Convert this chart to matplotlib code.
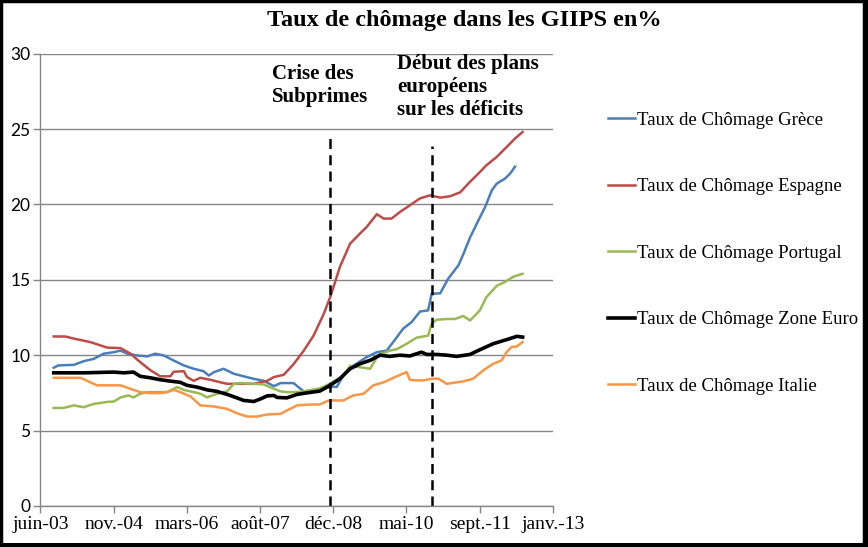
import matplotlib
matplotlib.use('Agg')
import matplotlib.pyplot as plt
from matplotlib.patches import Rectangle
import numpy as np

# x = months since juin-03
greece_x = [3, 4, 7.5, 9.7, 12, 14.2, 16.5, 18, 19.5, 21.7, 24, 25.8, 27.7, 29.9, 32.2, 34.4, 36.6, 37.8, 38.9, 41.1, 43.4, 45.6, 47.9, 50.1, 52.4, 53.9, 56.8, 59.1, 62.7, 65, 66.5, 68.3, 70.2, 73.2, 75.5, 77.7, 80, 81.4, 83.3, 85.2, 87, 87.8, 89.7, 91.5, 93.8, 94.9, 96.4, 98.3, 99.8, 101.3, 102.4, 104.2, 105.4, 106.5]
greece_y = [9.17, 9.32, 9.36, 9.6, 9.76, 10.1, 10.2, 10.3, 10.1, 9.98, 9.92, 10.1, 9.98, 9.65, 9.32, 9.1, 8.94, 8.65, 8.87, 9.1, 8.77, 8.6, 8.43, 8.3, 7.95, 8.15, 8.15, 7.6, 7.7, 7.9, 7.9, 8.8, 9.3, 9.87, 10.2, 10.3, 11.2, 11.76, 12.2, 12.9, 12.97, 14.08, 14.1, 15.07, 15.96, 16.7, 17.8, 18.95, 19.83, 20.94, 21.38, 21.7, 22.04, 22.5]

spain_x = [3, 5.6, 7.5, 11.2, 15, 18, 20.2, 22.4, 24.7, 26.9, 29.2, 29.9, 32.2, 32.9, 34.4, 35.9, 38.1, 40.4, 41.9, 44.9, 47.9, 50.9, 52.4, 54.6, 56.8, 59.1, 61.3, 63.6, 65.1, 67.2, 69.5, 71.7, 73.2, 75.5, 77, 78.8, 80.7, 82.9, 85.2, 87.4, 89.7, 91.9, 94.2, 96.4, 97.9, 100.1, 102.4, 104.6, 106.5, 108.2]
spain_y = [11.24, 11.24, 11.1, 10.87, 10.5, 10.47, 10.1, 9.54, 9.0, 8.6, 8.6, 8.9, 8.94, 8.55, 8.3, 8.5, 8.37, 8.2, 8.1, 8.1, 8.1, 8.3, 8.55, 8.7, 9.4, 10.3, 11.3, 12.75, 13.9, 15.85, 17.4, 18.06, 18.5, 19.35, 19.06, 19.06, 19.5, 19.94, 20.4, 20.6, 20.45, 20.54, 20.8, 21.5, 21.93, 22.6, 23.15, 23.8, 24.37, 24.8]

portugal_x = [3, 5.2, 7.5, 9.7, 12, 15, 16.5, 18, 19.8, 20.9, 22.4, 23.9, 26.2, 28.4, 30.7, 32.2, 34.4, 35.9, 37.4, 39.6, 41.9, 43.4, 44.9, 47.9, 50.1, 52.4, 53.9, 55.3, 56.8, 59.1, 62.7, 65, 68, 69.5, 71.7, 74, 75.8, 78.4, 80, 82.2, 84.4, 87, 87.8, 88.9, 91.2, 93, 94.9, 96.4, 98.6, 100.1, 102.4, 104.2, 106.1, 108.2]
portugal_y = [6.5, 6.5, 6.67, 6.55, 6.77, 6.9, 6.93, 7.2, 7.33, 7.2, 7.44, 7.55, 7.55, 7.55, 7.88, 7.7, 7.55, 7.44, 7.2, 7.44, 7.6, 8.1, 8.15, 8.1, 8.06, 7.77, 7.6, 7.55, 7.55, 7.6, 7.8, 8.1, 8.66, 9.3, 9.2, 9.1, 10.0, 10.3, 10.4, 10.76, 11.16, 11.3, 12.1, 12.35, 12.4, 12.4, 12.6, 12.3, 12.97, 13.86, 14.6, 14.85, 15.2, 15.4]

euro_x = [3, 9.7, 16.5, 18.7, 20.9, 22.4, 24.7, 26.9, 29.2, 31.4, 32.9, 35.2, 37.4, 39.6, 41.9, 44.1, 45.6, 47.9, 49.4, 50.9, 52.4, 53.1, 55.3, 57.6, 59.8, 62.7, 65, 67.2, 69.5, 71.7, 74, 76.2, 78.4, 80.7, 82.9, 85.5, 86.7, 88.9, 91.2, 93.4, 96.4, 98.6, 101.6, 104.6, 106.9, 108.2]
euro_y = [8.83, 8.83, 8.88, 8.83, 8.88, 8.6, 8.5, 8.37, 8.28, 8.2, 8.0, 7.88, 7.7, 7.6, 7.4, 7.17, 7.0, 6.93, 7.1, 7.3, 7.33, 7.2, 7.17, 7.4, 7.5, 7.62, 8.0, 8.44, 9.1, 9.43, 9.66, 10.0, 9.92, 10.0, 9.95, 10.2, 10.05, 10.05, 10.0, 9.92, 10.05, 10.36, 10.76, 11.03, 11.25, 11.2]

italy_x = [3, 9, 11.2, 12.7, 18, 20.2, 22.4, 24.7, 26.9, 28.4, 29.9, 31.4, 33.7, 35.9, 38.9, 41.9, 44.1, 46.4, 48.6, 50.9, 53.9, 55.3, 57.6, 60.6, 62.7, 64.3, 65, 68, 70.2, 72.5, 74.7, 77, 79.6, 82.2, 82.9, 84.1, 86, 87.8, 89.3, 91.2, 92.7, 94.9, 97.1, 99.4, 101.6, 103.5, 104.6, 105.7, 106.9, 108.2]
italy_y = [8.5, 8.5, 8.2, 8.0, 8.0, 7.77, 7.55, 7.48, 7.48, 7.55, 7.7, 7.55, 7.26, 6.67, 6.6, 6.44, 6.15, 5.93, 5.93, 6.07, 6.11, 6.33, 6.67, 6.73, 6.73, 6.95, 7.0, 7.0, 7.33, 7.44, 8.0, 8.2, 8.55, 8.88, 8.37, 8.33, 8.33, 8.44, 8.44, 8.1, 8.17, 8.26, 8.44, 9.0, 9.43, 9.66, 10.2, 10.54, 10.58, 10.87]

series_labels = ['Taux de Chômage Grèce', 'Taux de Chômage Espagne', 'Taux de Chômage Portugal',
                 'Taux de Chômage Zone Euro', 'Taux de Chômage Italie']
tick_labels = ['juin-03', 'nov.-04', 'mars-06', 'août-07', 'déc.-08', 'mai-10', 'sept.-11', 'janv.-13']
events_x = [65.0, 87.9]
events_top = [24.4, 23.9]
events_text = ['Crise des\nSubprimes', 'Début des plans\neuropéens\nsur les déficits']

serif = 'Liberation Serif'

fig = plt.figure(figsize=(8.68, 5.47), dpi=100)
ax = fig.add_axes([0.0465, 0.075, 0.5905, 0.827])

ax.plot(greece_x, greece_y, color='#4A7EBB', lw=1.8, label=series_labels[0])
ax.plot(spain_x, spain_y, color='#BE4B48', lw=1.8, label=series_labels[1])
ax.plot(portugal_x, portugal_y, color='#98B954', lw=1.8, label=series_labels[2])
ax.plot(euro_x, euro_y, color='black', lw=2.6, label=series_labels[3])
ax.plot(italy_x, italy_y, color='#F79646', lw=1.8, label=series_labels[4])

for ex, et in zip(events_x, events_top):
    ax.vlines(ex, 0, et, colors='black', linestyles=(0, (4, 2.5)), lw=1.8)

ax.text(52.0, 29.3, events_text[0], fontfamily=serif, fontweight='bold', fontsize=15,
        va='top', ha='left', linespacing=1.2)
ax.text(80.0, 29.95, events_text[1], fontfamily=serif, fontweight='bold', fontsize=15,
        va='top', ha='left', linespacing=1.19)

ax.set_xlim(0, 115)
ax.set_ylim(0, 30)
ax.set_xticks(np.linspace(0, 115, 8))
ax.set_xticklabels(tick_labels, fontfamily=serif, fontsize=14)
ax.set_yticks(range(0, 31, 5))
ax.set_yticklabels([str(v) for v in range(0, 31, 5)], fontfamily='Lato', fontsize=12.5)
ax.tick_params(axis='both', color='#868686', length=5, width=1, pad=2)
ax.yaxis.grid(True, color='#868686', lw=1)
ax.set_axisbelow(True)
for s in ['top', 'right']:
    ax.spines[s].set_visible(False)
for s in ['left', 'bottom']:
    ax.spines[s].set_color('#868686')
    ax.spines[s].set_linewidth(1)

leg = ax.legend(loc='upper left', bbox_to_anchor=(1.092, 0.888), frameon=False,
                prop={'family': serif, 'size': 13.5}, labelspacing=2.63,
                handlelength=1.45, handletextpad=0.1, borderaxespad=0)

fig.text(0.535, 0.962, 'Taux de chômage dans les GIIPS en%', fontfamily=serif,
         fontweight='bold', fontsize=17.5, ha='center', va='center')

fig.patches.append(Rectangle((0.001, 0.004), 0.994, 0.994, transform=fig.transFigure,
                             fill=False, edgecolor='black', lw=2.5))
fig.patches.append(Rectangle((0.0, 0.0), 1.0, 0.008, transform=fig.transFigure,
                             facecolor='black', edgecolor='none'))
fig.patches.append(Rectangle((0.995, 0.0), 0.005, 1.0, transform=fig.transFigure,
                             facecolor='black', edgecolor='none'))

fig.savefig('out.png', dpi=100)
